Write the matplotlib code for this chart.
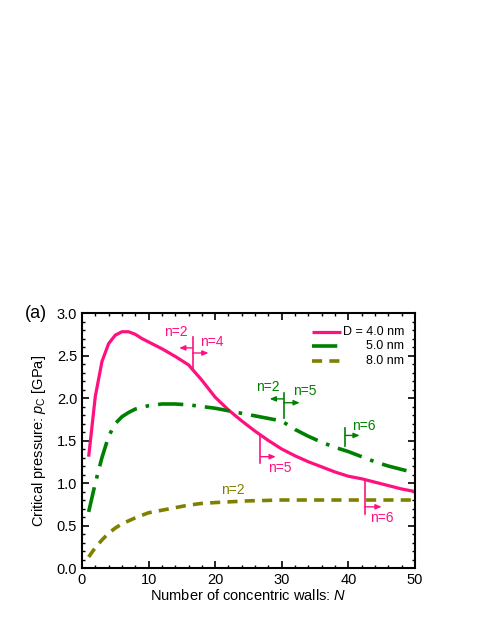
import numpy as np
import matplotlib
matplotlib.use("Agg")
import matplotlib.pyplot as plt
from matplotlib.ticker import MultipleLocator, FormatStrFormatter

plt.rcParams['font.family'] = ['Liberation Sans', 'DejaVu Sans']
plt.rcParams['mathtext.fontset'] = 'custom'
plt.rcParams['mathtext.rm'] = 'Liberation Sans'
plt.rcParams['mathtext.it'] = 'Liberation Sans:italic'

# D = 4.0 nm
N_4 = [1, 2, 3, 4, 5, 6, 7, 8, 9, 10, 12, 14, 16, 18, 20, 22, 24, 26, 28, 30,
       32, 34, 36, 38, 40, 42, 44, 46, 48, 50]
p_4 = [1.31, 2.02, 2.43, 2.64, 2.74, 2.78, 2.78, 2.75, 2.70, 2.66, 2.58, 2.49,
       2.39, 2.21, 2.01, 1.86, 1.73, 1.61, 1.50, 1.40, 1.32, 1.25, 1.19, 1.13,
       1.08, 1.05, 1.01, 0.97, 0.93, 0.90]
# D = 5.0 nm
N_5 = [1, 2, 3, 4, 5, 6, 7, 8, 10, 12, 14, 16, 18, 20, 22, 24, 26, 28, 30,
       32, 34, 36, 38, 40, 42, 44, 46, 48, 50]
p_5 = [0.66, 1.00, 1.30, 1.55, 1.70, 1.78, 1.83, 1.87, 1.91, 1.93, 1.93, 1.92,
       1.90, 1.88, 1.85, 1.82, 1.79, 1.76, 1.73, 1.63, 1.55, 1.48, 1.42, 1.37,
       1.31, 1.25, 1.20, 1.16, 1.12]
# D = 8.0 nm
N_8 = [1, 2, 3, 4, 5, 6, 8, 10, 12, 14, 16, 18, 20, 25, 30, 35, 40, 45, 50]
p_8 = [0.13, 0.24, 0.33, 0.41, 0.47, 0.52, 0.59, 0.65, 0.68, 0.71, 0.74, 0.76,
       0.77, 0.79, 0.80, 0.80, 0.80, 0.80, 0.80]

series_labels = ['D = 4.0 nm', '5.0 nm', '8.0 nm']

pink = '#FF1080'
green = '#008000'
olive = '#808000'

fig = plt.figure(figsize=(4.91, 6.35), dpi=100)
ax = fig.add_axes([0.167, 0.1055, 0.678, 0.4015])

styles = [
    dict(color=pink, lw=2.3, solid_capstyle='butt'),
    dict(color=green, lw=2.6, dashes=(7, 2.5, 1, 2.5)),
    dict(color=olive, lw=2.6, dashes=(2.8, 2.0)),
]
for (xs, ys), st in zip([(N_4, p_4), (N_5, p_5), (N_8, p_8)], styles):
    ax.plot(xs, ys, **st)

# transition markers: (colour, x, y bottom, y top, left arrow (end, y), right arrow (end, y))
marks = [
    (pink, 16.6, 2.35, 2.72, (14.6, 2.59), (19.0, 2.53)),
    (pink, 26.8, 1.24, 1.56, None, (29.1, 1.31)),
    (pink, 42.5, 0.635, 1.05, None, (45.0, 0.72)),
    (green, 30.3, 1.76, 2.06, (28.2, 1.99), (32.7, 1.945)),
    (green, 39.5, 1.43, 1.65, None, (41.7, 1.56)),
]
arrow = dict(arrowstyle='-|>,head_length=0.35,head_width=0.15',
             lw=1.0, shrinkA=0, shrinkB=0)
for c, x, y0, y1, left, right in marks:
    ax.plot([x, x], [y0, y1], color=c, lw=1.2)
    for a in (left, right):
        if a is not None:
            ax.annotate('', xy=(a[0], a[1]), xytext=(x, a[1]),
                        arrowprops=dict(color=c, **arrow))

labels = [
    (pink, 15.8, 2.78, 'n=2', 'right'),
    (pink, 17.7, 2.66, 'n=4', 'left'),
    (pink, 28.0, 1.18, 'n=5', 'left'),
    (pink, 43.3, 0.59, 'n=6', 'left'),
    (green, 29.7, 2.125, 'n=2', 'right'),
    (green, 31.7, 2.085, 'n=5', 'left'),
    (green, 40.6, 1.67, 'n=6', 'left'),
    (olive, 22.7, 0.92, 'n=2', 'center'),
]
for c, x, y, s, ha in labels:
    ax.text(x, y, s, color=c, fontsize=10, ha=ha, va='center')

# legend drawn by hand so labels sit right-aligned
for i, (lab, st) in enumerate(zip(series_labels, styles)):
    yl = 0.927 - i * 0.058
    ax.plot([0.691, 0.778], [yl, yl], transform=ax.transAxes, **st)
    ax.text(0.967, yl, lab, transform=ax.transAxes, fontsize=9,
            ha='right', va='center')

ax.set_xlim(0, 50)
ax.set_ylim(0, 3.0)
ax.xaxis.set_major_locator(MultipleLocator(10))
ax.xaxis.set_minor_locator(MultipleLocator(2))
ax.yaxis.set_major_locator(MultipleLocator(0.5))
ax.yaxis.set_minor_locator(MultipleLocator(0.1))
ax.yaxis.set_major_formatter(FormatStrFormatter('%.1f'))
ax.tick_params(which='both', direction='in', top=True, right=True, labelsize=10.5)
ax.tick_params(which='major', length=5, width=1.2)
ax.tick_params(which='minor', length=2.5, width=1.0)
for s in ax.spines.values():
    s.set_linewidth(1.5)

ax.set_xlabel('Number of concentric walls: $N$', fontsize=10.5, labelpad=1)
ax.set_ylabel(r'Critical pressure: $p_\mathrm{C}$ [GPa]', fontsize=10.5, labelpad=6)

fig.text(0.05, 0.507, '(a)', fontsize=13, ha='left', va='center')

fig.savefig('out.png', dpi=100)
